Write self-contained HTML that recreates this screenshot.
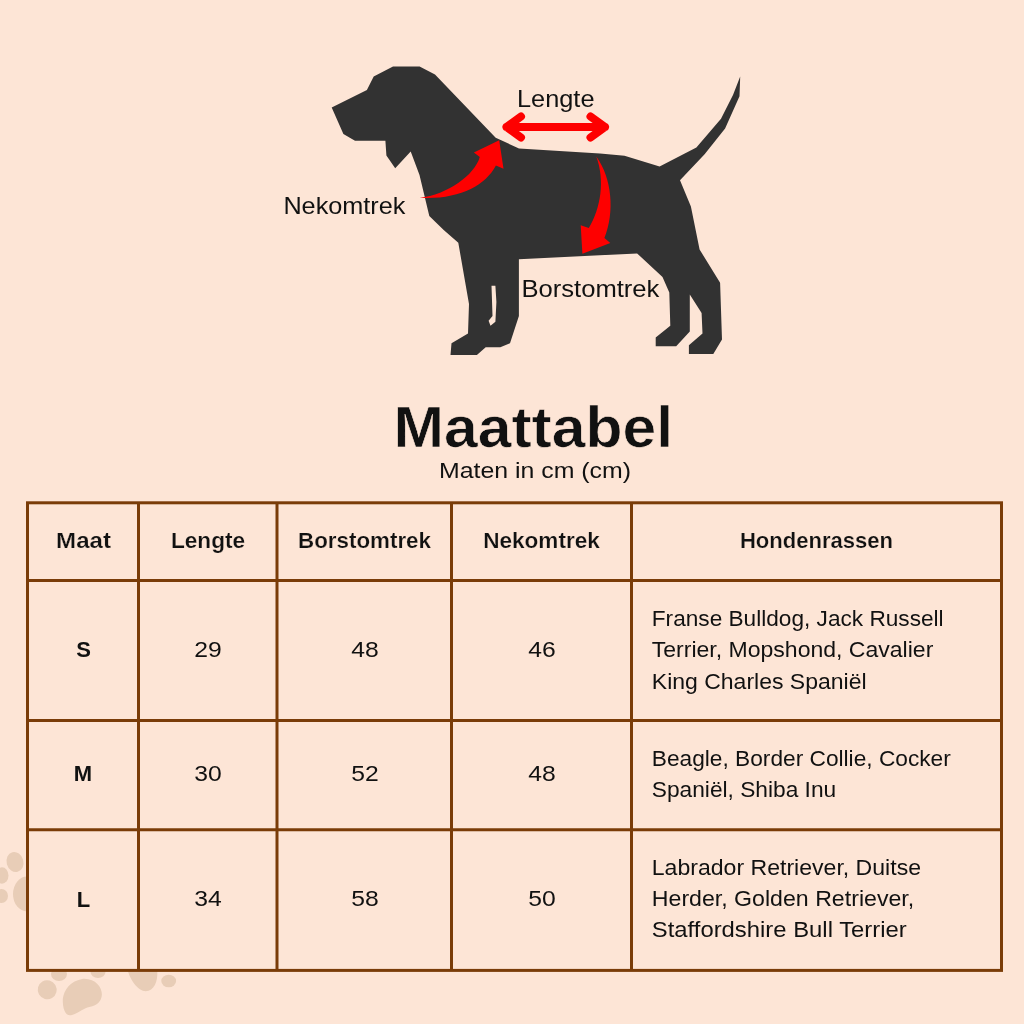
<!DOCTYPE html>
<html><head><meta charset="utf-8">
<style>
html,body{margin:0;padding:0;background:#fde5d6;width:1024px;height:1024px;overflow:hidden;}
svg{position:absolute;left:0;top:0;display:block;will-change:transform;}
text{font-family:"Liberation Sans",sans-serif;fill:#111111;}
.b{font-weight:bold;}
</style></head>
<body>
<svg width="1024" height="1024" viewBox="0 0 1024 1024">
<!-- paw prints -->
<g fill="#e8cdb7">
  <ellipse cx="15" cy="862" rx="8.4" ry="10.2" transform="rotate(-15 15 862)"/>
  <ellipse cx="2" cy="875.5" rx="6.5" ry="8.2"/>
  <ellipse cx="1.5" cy="896" rx="6.5" ry="7"/>
  <ellipse cx="27" cy="894" rx="14" ry="17.5"/>
  <ellipse cx="47.2" cy="989.7" rx="9.4" ry="9.6" transform="rotate(-30 47.2 989.7)"/>
  <ellipse cx="59" cy="974" rx="8" ry="7"/>
  <ellipse cx="98" cy="972" rx="7.5" ry="6"/>
  <path d="M62.8,999 C64,990 70,981 83.1,978.75 C95,978 102,987 101.9,994.4 C101.5,1001 98,1005 89.4,1006.9 C84,1008 80,1012 72,1015 C66,1017 62.5,1010 62.8,999 Z"/>
  <path d="M127.7,970 C130,980 138,991 145.6,991.25 C154,991 158,982 157.3,970 Z"/>
  <ellipse cx="168.7" cy="981" rx="7.4" ry="6.3"/>
</g>
<!-- table backgrounds + grid -->
<rect x="27.5" y="502.8" width="974" height="467.6" fill="#fde5d6"/>
<g stroke="#7a3c08" stroke-width="3" fill="none">
  <rect x="27.5" y="502.8" width="974" height="467.6"/>
  <line x1="138.5" y1="502.8" x2="138.5" y2="970.4"/>
  <line x1="277" y1="502.8" x2="277" y2="970.4"/>
  <line x1="451.5" y1="502.8" x2="451.5" y2="970.4"/>
  <line x1="631.5" y1="502.8" x2="631.5" y2="970.4"/>
  <line x1="27.5" y1="580.5" x2="1001.5" y2="580.5"/>
  <line x1="27.5" y1="720.5" x2="1001.5" y2="720.5"/>
  <line x1="27.5" y1="829.8" x2="1001.5" y2="829.8"/>
</g>
<!-- dog -->
<path fill="#323232" d="M331.7,107.6 L366.9,90 L373.7,76.4 L393,66.6 L419.6,66.6 L435,74.4 L495.7,137.8 L519,148.5 L600,153.4 L624.5,155.7 L659.6,166.4 L696.4,147.5 L721,118.8 L733,95 L740.2,76.4 L739.5,96.2 L725.1,128.4 L704.6,154.3 L680,180.3 L690.9,206.6 L699.6,249.5 L720.1,282.7 L722,339.4 L713.3,354 L688.9,354 L688.9,345.2 L702.5,333.5 L701.6,313 L689.8,294.5 L689.8,331.6 L676.2,346.2 L655.7,346.2 L655.7,337.4 L670.3,325.7 L669.3,292.5 L662.5,276.9 L637.1,253.4 L518.9,259.3 L518.9,316 L510,343.3 L500.3,347.2 L485.7,347.2 L476.9,355 L450.5,355 L451.5,343.3 L468,333.5 L469,304 L458.3,242.7 L443.7,230 L429.3,216 L419.5,175 L410.7,151.5 L395.2,168.2 L386.4,155.5 L385.4,140.8 L355,140.8 L343.4,134 Z"/>
<path fill="#fde5d6" d="M491.5,285.7 L495.4,285.7 L496.4,302 L495.4,321.8 L490.5,325.7 L488.6,320.8 L492.5,316 Z"/>
<!-- red arrows -->
<g fill="#fe0000">
<path d="M419.7,197.7 C447.6,194.5 474.5,175.1 479.8,156.9 L473.9,152.6 L499.2,140.2 L503.5,168.7 L495.9,165.4 C485.2,185.9 458.3,199.8 419.7,197.7 Z"/>
<path d="M596.3,156.4 C612,178 615,212 604.4,238.1 L610.3,242.9 L582.4,253.7 L580.7,225.2 L588.8,227.9 C601,208 605,180 596.3,156.4 Z"/>
</g>
<g stroke="#fe0000" stroke-width="8" stroke-linecap="round" stroke-linejoin="round" fill="none">
<path d="M521,116.5 L506.5,127 L521,137.5 M506.5,127 L605,127 M590.5,116.5 L605,127 L590.5,137.5"/>
</g>
<!-- labels -->
<text x="517" y="107.2" font-size="23" textLength="77.5" lengthAdjust="spacingAndGlyphs">Lengte</text>
<text x="283.4" y="213.6" font-size="24.5" textLength="122" lengthAdjust="spacingAndGlyphs">Nekomtrek</text>
<text x="521.4" y="297.4" font-size="24" textLength="138" lengthAdjust="spacingAndGlyphs">Borstomtrek</text>
<text x="533.3" y="446.5" font-size="56.5" class="b" text-anchor="middle" stroke="#fde5d6" stroke-width="0.6" textLength="279.5" lengthAdjust="spacingAndGlyphs">Maattabel</text>
<text x="535" y="477.9" font-size="22" text-anchor="middle" textLength="192" lengthAdjust="spacingAndGlyphs">Maten in cm (cm)</text>
<!-- header -->
<g class="b" font-size="21.5" text-anchor="middle" stroke="#fde5d6" stroke-width="0.2">
<text x="83.5" y="548" class="b" textLength="54.8" lengthAdjust="spacingAndGlyphs">Maat</text>
<text x="208" y="548" class="b" textLength="74.2" lengthAdjust="spacingAndGlyphs">Lengte</text>
<text x="364.5" y="548" class="b" textLength="132.9" lengthAdjust="spacingAndGlyphs">Borstomtrek</text>
<text x="541.5" y="548" class="b" textLength="116.7" lengthAdjust="spacingAndGlyphs">Nekomtrek</text>
<text x="816.5" y="548" class="b" textLength="153.2" lengthAdjust="spacingAndGlyphs">Hondenrassen</text>
</g>
<g font-size="22" text-anchor="middle">
<text x="83.5" y="656.7" class="b">S</text>
<text x="208" y="656.7" textLength="27.5" lengthAdjust="spacingAndGlyphs">29</text>
<text x="365" y="656.7" textLength="27.5" lengthAdjust="spacingAndGlyphs">48</text>
<text x="542" y="656.7" textLength="27.5" lengthAdjust="spacingAndGlyphs">46</text>
<text x="83" y="781" class="b">M</text>
<text x="208" y="781" textLength="27.5" lengthAdjust="spacingAndGlyphs">30</text>
<text x="365" y="781" textLength="27.5" lengthAdjust="spacingAndGlyphs">52</text>
<text x="542" y="781" textLength="27.5" lengthAdjust="spacingAndGlyphs">48</text>
<text x="83.5" y="906.6" class="b">L</text>
<text x="208" y="906.1" textLength="27.5" lengthAdjust="spacingAndGlyphs">34</text>
<text x="365" y="906.1" textLength="27.5" lengthAdjust="spacingAndGlyphs">58</text>
<text x="542" y="906.1" textLength="27.5" lengthAdjust="spacingAndGlyphs">50</text>
</g>
<g font-size="22.4">
<text x="651.8" y="625.5" textLength="291.8" lengthAdjust="spacingAndGlyphs">Franse Bulldog, Jack Russell</text>
<text x="651.8" y="657.1" textLength="281.5" lengthAdjust="spacingAndGlyphs">Terrier, Mopshond, Cavalier</text>
<text x="651.8" y="688.7" textLength="214.8" lengthAdjust="spacingAndGlyphs">King Charles Spaniël</text>
<text x="651.8" y="766" textLength="299" lengthAdjust="spacingAndGlyphs">Beagle, Border Collie, Cocker</text>
<text x="651.8" y="797.2" textLength="184.4" lengthAdjust="spacingAndGlyphs">Spaniël, Shiba Inu</text>
<text x="651.8" y="874.5" textLength="269.2" lengthAdjust="spacingAndGlyphs">Labrador Retriever, Duitse</text>
<text x="651.8" y="906.1" textLength="262.4" lengthAdjust="spacingAndGlyphs">Herder, Golden Retriever,</text>
<text x="651.8" y="937.3" textLength="254.9" lengthAdjust="spacingAndGlyphs">Staffordshire Bull Terrier</text>
</g>
</svg>
</body></html>
